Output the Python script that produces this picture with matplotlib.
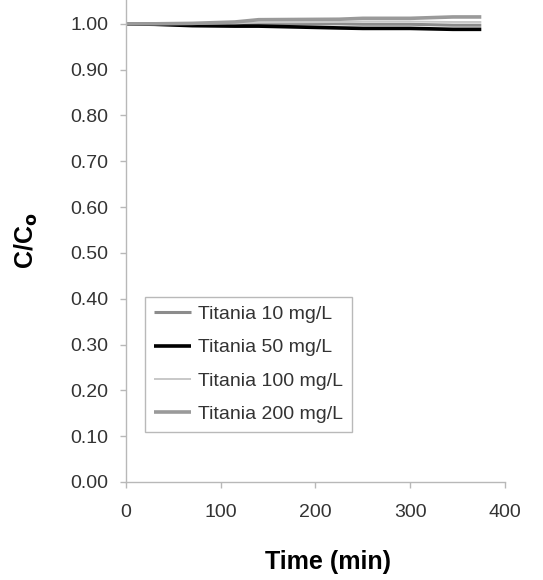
import matplotlib
matplotlib.use("Agg")
import matplotlib.pyplot as plt

plt.rcParams['font.family'] = ['Liberation Sans', 'DejaVu Sans']

time_min = [0, 30, 70, 115, 140, 225, 250, 300, 345, 375]
titania_10 = [1.000, 0.999, 0.998, 0.998, 1.000, 1.000, 0.999, 0.999, 0.997, 0.997]
titania_50 = [1.000, 0.999, 0.996, 0.995, 0.995, 0.991, 0.990, 0.990, 0.988, 0.988]
titania_100 = [1.000, 1.000, 1.000, 1.001, 1.003, 1.004, 1.005, 1.005, 1.004, 1.004]
titania_200 = [1.000, 1.000, 1.001, 1.004, 1.009, 1.010, 1.012, 1.012, 1.015, 1.015]

labels = ["Titania 10 mg/L", "Titania 50 mg/L", "Titania 100 mg/L", "Titania 200 mg/L"]
colors = ["#8c8c8c", "#000000", "#c8c8c8", "#9a9a9a"]
widths = [2.2, 2.6, 1.4, 2.6]
x_ticks = [0, 100, 200, 300, 400]
y_ticks = [0.0, 0.1, 0.2, 0.3, 0.4, 0.5, 0.6, 0.7, 0.8, 0.9, 1.0]

fig = plt.figure(figsize=(5.43, 5.80), dpi=100)
ax = fig.add_axes([0.232, 0.169, 0.698, 0.831])

for ys, lab, c, lw in zip([titania_10, titania_50, titania_100, titania_200], labels, colors, widths):
    ax.plot(time_min, ys, color=c, lw=lw, label=lab, solid_capstyle='butt')

ax.set_xlim(0, 400)
ax.set_ylim(0, 1.052)
ax.set_xticks(x_ticks)
ax.set_yticks(y_ticks)
ax.set_yticklabels([f"{v:.2f}" for v in y_ticks])

for side in ("top", "right"):
    ax.spines[side].set_visible(False)
for side in ("left", "bottom"):
    ax.spines[side].set_color("#b8b8b8")
    ax.spines[side].set_linewidth(1.0)
ax.tick_params(axis='both', direction='out', length=4, width=1, color="#b8b8b8",
               labelsize=14, labelcolor="#333333")
ax.tick_params(axis='y', pad=8.5)
ax.tick_params(axis='x', pad=12)

ax.set_xlabel("Time (min)", fontsize=18, fontweight='bold')
ax.set_ylabel(r"C/C$_\mathbf{o}$", fontsize=18, fontweight='bold')
ax.xaxis.set_label_coords(0.533, -0.141)
ax.yaxis.set_label_coords(-0.228, 0.5)

leg = ax.legend(loc='upper left', bbox_to_anchor=(0.050, 0.384), borderaxespad=0,
                fontsize=14, frameon=True, fancybox=False, handlelength=1.9,
                handletextpad=0.4, labelspacing=0.8, borderpad=0.45)
leg.get_frame().set_edgecolor("#a8a8a8")
leg.get_frame().set_linewidth(1.0)
for t in leg.get_texts():
    t.set_color("#333333")

fig.savefig("out.png", dpi=100)
